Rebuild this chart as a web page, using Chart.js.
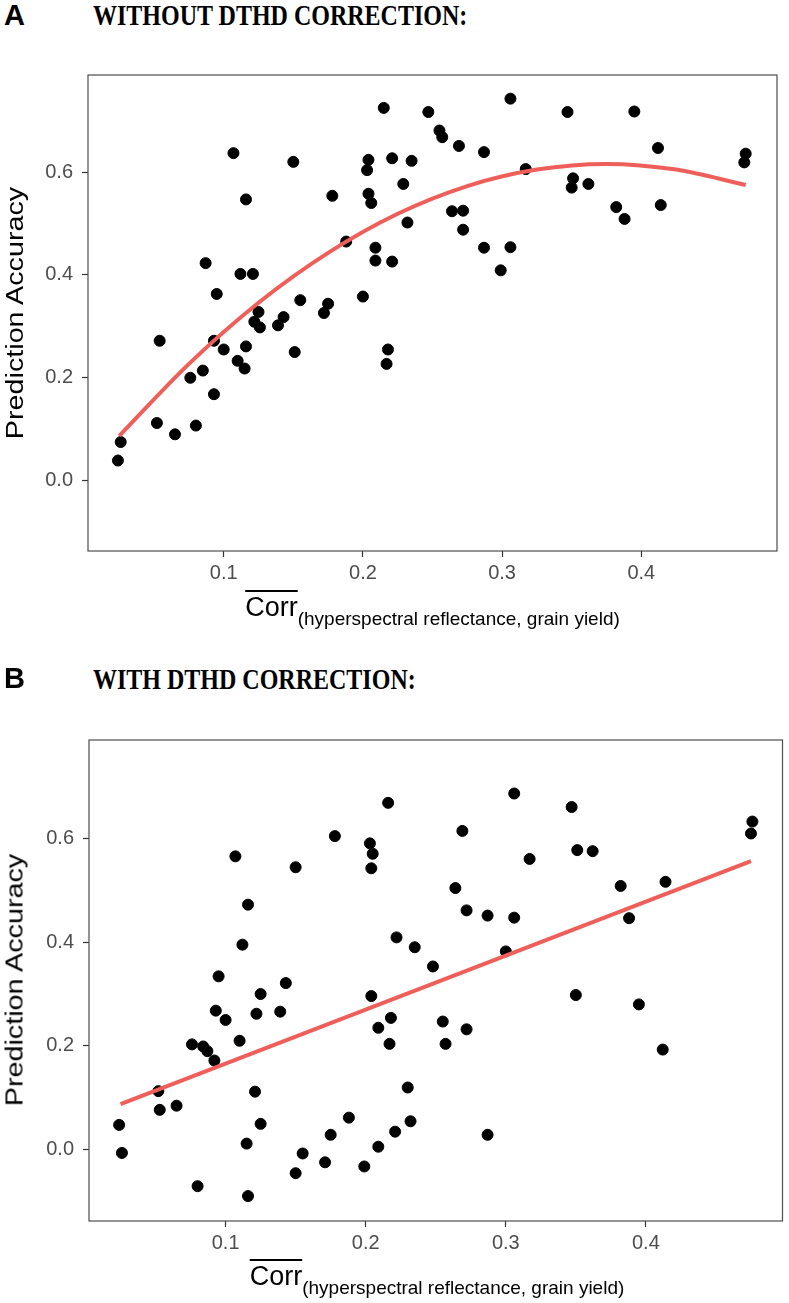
<!DOCTYPE html>
<html>
<head>
<meta charset="utf-8">
<script src="https://cdn.jsdelivr.net/npm/chart.js@4.4.1/dist/chart.umd.min.js"></script>
<style>
  html, body { margin: 0; padding: 0; background: #fff; }
  body { position: relative; width: 789px; height: 1303px; overflow: hidden; }
  canvas { position: absolute; left: 0; }
  .panel-letter { position: absolute; left: 4px; font: bold 29px "Liberation Sans", Arial, sans-serif; line-height: 29px; color: #000; }
  .panel-heading { position: absolute; left: 93px; font: bold 24px "Liberation Serif", "Times New Roman", serif; line-height: 24px; color: #000; transform-origin: 0 0; transform: scaleY(1.25); white-space: nowrap; }
  .y-title { position: absolute; font: 23px "Liberation Sans", Arial, sans-serif; line-height: 23px; color: #000; white-space: nowrap; transform: translate(-50%, -50%) rotate(-90deg) scaleX(1.25); }
  .x-title { position: absolute; text-align: center; font: 27px "Liberation Sans", Arial, sans-serif; line-height: 27px; color: #000; white-space: nowrap; }
  .x-title .corr { text-decoration: overline; text-decoration-thickness: 1.5px; }
  .x-title .sub { font-size: 19px; vertical-align: -9px; }
</style>
</head>
<body>
<div class="panel-letter" style="top:1px">A</div>
<div class="panel-heading" style="top:0px">WITHOUT DTHD CORRECTION:</div>
<canvas id="chartA" width="789" height="600" style="top:0px"></canvas>
<div class="y-title" style="left:15px; top:313px">Prediction Accuracy</div>
<div class="x-title" style="left:88px; width:689px; top:594px"><span class="corr">Corr</span><span class="sub">(hyperspectral reflectance, grain yield)</span></div>

<div class="panel-letter" style="top:664px">B</div>
<div class="panel-heading" style="top:664px">WITH DTHD CORRECTION:</div>
<canvas id="chartB" width="789" height="620" style="top:650px"></canvas>
<div class="y-title" style="left:15px; top:980px">Prediction Accuracy</div>
<div class="x-title" style="left:89px; width:696px; top:1263px"><span class="corr">Corr</span><span class="sub">(hyperspectral reflectance, grain yield)</span></div>

<script>
// panel A: without DTHD correction
const withoutCorrX = [
  0.215, 0.247, 0.255, 0.257, 0.107, 0.150, 0.204, 0.203, 0.221, 0.235,
  0.229, 0.116, 0.178, 0.204, 0.206, 0.232, 0.188, 0.209, 0.209, 0.221,
  0.087, 0.112, 0.121, 0.095, 0.155, 0.175, 0.200, 0.054, 0.093, 0.125,
  0.122, 0.126, 0.143, 0.139, 0.172, 0.100, 0.116, 0.110, 0.115, 0.151,
  0.085, 0.076, 0.093, 0.218, 0.217, 0.052, 0.065, 0.080, 0.026, 0.024,
  0.306, 0.347, 0.395, 0.269, 0.287, 0.317, 0.412, 0.475, 0.474, 0.351,
  0.350, 0.362, 0.264, 0.272, 0.272, 0.382, 0.388, 0.414, 0.287, 0.306,
  0.299
];
const withoutCorrY = [
  0.725, 0.717, 0.681, 0.668, 0.637, 0.620, 0.624, 0.604, 0.627, 0.622,
  0.577, 0.547, 0.554, 0.558, 0.540, 0.502, 0.465, 0.453, 0.428, 0.426,
  0.423, 0.402, 0.402, 0.363, 0.351, 0.344, 0.358, 0.272, 0.272, 0.328,
  0.309, 0.298, 0.318, 0.302, 0.326, 0.255, 0.261, 0.233, 0.218, 0.250,
  0.214, 0.200, 0.168, 0.255, 0.227, 0.112, 0.090, 0.107, 0.075, 0.039,
  0.743, 0.717, 0.718, 0.651, 0.639, 0.606, 0.647, 0.636, 0.619, 0.588,
  0.570, 0.577, 0.524, 0.525, 0.488, 0.532, 0.509, 0.536, 0.453, 0.454,
  0.409
];
const withoutCorrFitX = [0.025, 0.075, 0.125, 0.175, 0.225, 0.275, 0.325, 0.375, 0.425, 0.475];
const withoutCorrFitY = [0.087, 0.227, 0.346, 0.443, 0.519, 0.573, 0.605, 0.616, 0.605, 0.575];

// panel B: with DTHD correction
const withCorrX = [
  0.216, 0.178, 0.203, 0.205, 0.204, 0.107, 0.150, 0.116, 0.112, 0.222,
  0.235, 0.248, 0.095, 0.143, 0.125, 0.204, 0.093, 0.100, 0.122, 0.139,
  0.218, 0.209, 0.255, 0.217, 0.076, 0.084, 0.087, 0.110, 0.092, 0.052,
  0.053, 0.065, 0.121, 0.230, 0.024, 0.026, 0.125, 0.115, 0.188, 0.175,
  0.155, 0.150, 0.171, 0.209, 0.221, 0.232, 0.199, 0.080, 0.116, 0.306,
  0.347, 0.269, 0.476, 0.475, 0.317, 0.351, 0.362, 0.264, 0.382, 0.414,
  0.272, 0.287, 0.306, 0.388, 0.300, 0.350, 0.395, 0.272, 0.257, 0.412,
  0.287
];
const withCorrY = [
  0.668, 0.604, 0.590, 0.570, 0.542, 0.565, 0.544, 0.472, 0.395, 0.409,
  0.390, 0.353, 0.334, 0.321, 0.300, 0.296, 0.268, 0.250, 0.262, 0.266,
  0.254, 0.235, 0.247, 0.204, 0.203, 0.199, 0.190, 0.210, 0.172, 0.113,
  0.077, 0.085, 0.112, 0.120, 0.048, -0.006, 0.050, 0.012, 0.062, 0.029,
  -0.007, -0.045, -0.024, 0.006, 0.035, 0.055, -0.032, -0.070, -0.089, 0.686,
  0.660, 0.614, 0.632, 0.609, 0.560, 0.577, 0.575, 0.504, 0.508, 0.516,
  0.461, 0.451, 0.447, 0.446, 0.382, 0.298, 0.280, 0.232, 0.204, 0.193,
  0.029
];
const withCorrFitX = [0.025, 0.475];
const withCorrFitY = [0.088, 0.556];

// axes
const xTickValues = [0.1, 0.2, 0.3, 0.4];
const yTickValues = [0.0, 0.2, 0.4, 0.6];
const xLimits = [0.0025, 0.4975];
const yLimits = [-0.137, 0.789];

const FIT_COLOR = "#ef5f5a";
const TICK_FONT = { family: "'Liberation Sans', Arial, sans-serif", size: 20 };

const panelBorderPlugin = {
  id: "panelBorder",
  afterDraw(chart) {
    const area = chart.chartArea;
    const ctx = chart.ctx;
    ctx.save();
    ctx.strokeStyle = "#4d4d4d";
    ctx.lineWidth = 1.2;
    ctx.strokeRect(area.left, area.top, area.right - area.left, area.bottom - area.top);
    ctx.restore();
  },
};

function toPoints(xs, ys) {
  return xs.map((x, i) => ({ x: x, y: ys[i] }));
}

function buildPanel(canvasId, xs, ys, fitXs, fitYs, opts) {
  const ctx = document.getElementById(canvasId);
  return new Chart(ctx, {
    type: "scatter",
    data: {
      datasets: [
        {
          type: "line",
          data: toPoints(fitXs, fitYs),
          borderColor: FIT_COLOR,
          borderWidth: 4,
          pointRadius: 0,
          fill: false,
          cubicInterpolationMode: "monotone",
          order: 0,
        },
        {
          data: toPoints(xs, ys),
          backgroundColor: "#000",
          borderColor: "#000",
          pointRadius: 5.5,
          pointHoverRadius: 5.5,
          order: 1,
        },
      ],
    },
    plugins: [panelBorderPlugin],
    options: {
      responsive: false,
      animation: false,
      layout: {
        padding: { left: 0, right: opts.padRight, top: opts.padTop, bottom: opts.padBottom },
      },
      plugins: {
        legend: { display: false },
        tooltip: { enabled: false },
      },
      scales: {
        x: {
          type: "linear",
          min: xLimits[0],
          max: xLimits[1],
          afterBuildTicks(scale) {
            scale.ticks = xTickValues.map((v) => ({ value: v }));
          },
          afterFit(scale) {
            scale.height = 40;
          },
          grid: { drawOnChartArea: false, drawTicks: true, tickLength: 6, tickColor: "#333", tickWidth: 1.2 },
          border: { display: false },
          ticks: {
            color: "#4d4d4d",
            font: TICK_FONT,
            padding: 4,
            maxRotation: 0,
            callback: (v) => v.toFixed(1),
          },
        },
        y: {
          type: "linear",
          min: yLimits[0],
          max: yLimits[1],
          afterBuildTicks(scale) {
            scale.ticks = yTickValues.map((v) => ({ value: v }));
          },
          afterFit(scale) {
            scale.width = opts.axisWidth;
          },
          grid: { drawOnChartArea: false, drawTicks: true, tickLength: 6, tickColor: "#333", tickWidth: 1.2 },
          border: { display: false },
          ticks: {
            color: "#4d4d4d",
            font: TICK_FONT,
            padding: 9,
            callback: (v) => v.toFixed(1),
          },
        },
      },
    },
  });
}

// A: plot box 88..777 x 75..551 ; B: plot box 89..785 x 740..1221
buildPanel("chartA", withoutCorrX, withoutCorrY, withoutCorrFitX, withoutCorrFitY,
  { axisWidth: 88, padRight: 12, padTop: 75, padBottom: 9 });
buildPanel("chartB", withCorrX, withCorrY, withCorrFitX, withCorrFitY,
  { axisWidth: 89, padRight: 4, padTop: 90, padBottom: 9 });
</script>
</body>
</html>
